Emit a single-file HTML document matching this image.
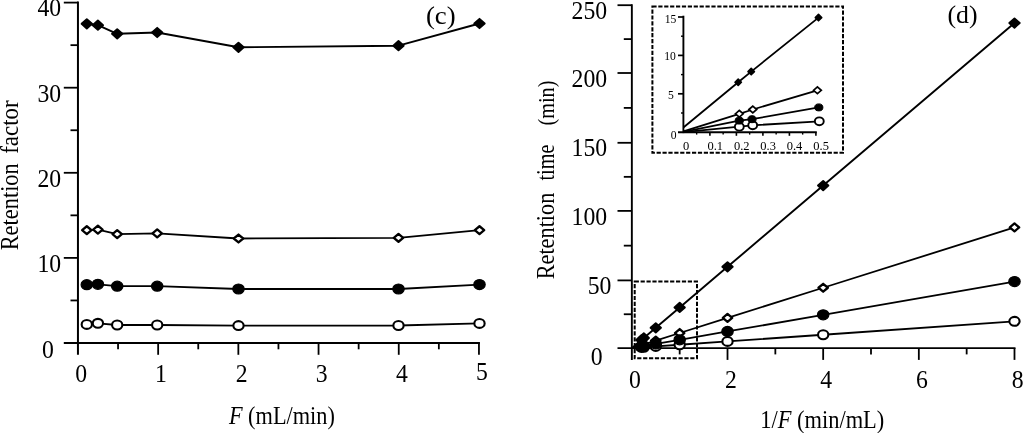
<!DOCTYPE html>
<html><head><meta charset="utf-8"><title>Figure</title>
<style>
html,body{margin:0;padding:0;background:#fff;}
body{width:1024px;height:433px;overflow:hidden;}
svg{display:block;will-change:transform;font-family:"Liberation Serif",serif;fill:#000;}
</style></head><body>
<svg width="1024" height="433" viewBox="0 0 1024 433">
<rect x="0" y="0" width="1024" height="433" fill="#fff"/>
<line x1="77.95" y1="1.60" x2="77.95" y2="354.80" stroke="#000" stroke-width="2.0" />
<line x1="63.80" y1="343.00" x2="479.95" y2="343.00" stroke="#000" stroke-width="2.0" />
<line x1="63.80" y1="257.90" x2="77.95" y2="257.90" stroke="#000" stroke-width="1.8" />
<line x1="63.80" y1="172.80" x2="77.95" y2="172.80" stroke="#000" stroke-width="1.8" />
<line x1="63.80" y1="87.70" x2="77.95" y2="87.70" stroke="#000" stroke-width="1.8" />
<line x1="63.80" y1="2.60" x2="77.95" y2="2.60" stroke="#000" stroke-width="1.8" />
<line x1="70.50" y1="300.45" x2="77.95" y2="300.45" stroke="#000" stroke-width="1.8" />
<line x1="70.50" y1="215.35" x2="77.95" y2="215.35" stroke="#000" stroke-width="1.8" />
<line x1="70.50" y1="130.25" x2="77.95" y2="130.25" stroke="#000" stroke-width="1.8" />
<line x1="70.50" y1="45.15" x2="77.95" y2="45.15" stroke="#000" stroke-width="1.8" />
<line x1="158.15" y1="343.00" x2="158.15" y2="354.80" stroke="#000" stroke-width="1.8" />
<line x1="238.35" y1="343.00" x2="238.35" y2="354.80" stroke="#000" stroke-width="1.8" />
<line x1="318.55" y1="343.00" x2="318.55" y2="354.80" stroke="#000" stroke-width="1.8" />
<line x1="398.75" y1="343.00" x2="398.75" y2="354.80" stroke="#000" stroke-width="1.8" />
<line x1="478.95" y1="343.00" x2="478.95" y2="354.80" stroke="#000" stroke-width="1.8" />
<line x1="118.05" y1="343.00" x2="118.05" y2="349.30" stroke="#000" stroke-width="1.8" />
<line x1="198.25" y1="343.00" x2="198.25" y2="349.30" stroke="#000" stroke-width="1.8" />
<line x1="278.45" y1="343.00" x2="278.45" y2="349.30" stroke="#000" stroke-width="1.8" />
<line x1="358.65" y1="343.00" x2="358.65" y2="349.30" stroke="#000" stroke-width="1.8" />
<line x1="438.85" y1="343.00" x2="438.85" y2="349.30" stroke="#000" stroke-width="1.8" />
<text transform="translate(41.88,357.60) scale(0.95,1)" font-size="25.0">0</text>
<text transform="translate(37.40,271.70) scale(0.95,1)" font-size="25.0">10</text>
<text transform="translate(37.40,186.60) scale(0.95,1)" font-size="25.0">20</text>
<text transform="translate(37.40,101.50) scale(0.95,1)" font-size="25.0">30</text>
<text transform="translate(37.40,16.40) scale(0.95,1)" font-size="25.0">40</text>
<text transform="translate(75.21,382.20) scale(0.95,1)" font-size="25.0">0</text>
<text transform="translate(155.06,382.20) scale(0.95,1)" font-size="25.0">1</text>
<text transform="translate(235.73,382.20) scale(0.95,1)" font-size="25.0">2</text>
<text transform="translate(315.69,382.20) scale(0.95,1)" font-size="25.0">3</text>
<text transform="translate(395.95,382.20) scale(0.95,1)" font-size="25.0">4</text>
<text transform="translate(475.97,379.50) scale(0.95,1)" font-size="25.0">5</text>
<text transform="translate(228.91,423.70) scale(0.9,1)" font-size="24.8"><tspan font-style="italic">F</tspan> (mL/min)</text>
<text transform="translate(425.89,23.70) scale(1.03,1)" font-size="26">(c)</text>
<text transform="translate(18.00,250.37) rotate(-90) scale(0.897,1)" font-size="25">Retention</text>
<text transform="translate(18.00,153.79) rotate(-90) scale(0.917,1)" font-size="25">factor</text>
<polyline points="86.80,23.80 97.90,25.20 117.20,33.80 157.20,32.50 238.50,47.30 398.50,45.70 479.50,23.50" fill="none" stroke="#000" stroke-width="1.9" stroke-linejoin="round"/>
<polyline points="86.80,230.20 97.90,229.60 117.20,234.10 157.20,233.40 238.50,238.50 398.50,237.80 479.50,230.20" fill="none" stroke="#000" stroke-width="1.8" stroke-linejoin="round"/>
<polyline points="86.80,284.70 97.90,284.30 117.20,286.20 157.20,286.20 238.50,289.00 398.50,289.00 479.50,284.60" fill="none" stroke="#000" stroke-width="1.8" stroke-linejoin="round"/>
<polyline points="86.80,324.40 97.90,323.30 117.20,325.00 157.20,325.00 238.50,325.60 398.50,325.50 479.50,323.40" fill="none" stroke="#000" stroke-width="1.8" stroke-linejoin="round"/>
<polygon points="81.60,23.80 86.80,19.15 92.00,23.80 86.80,28.45" fill="#000" stroke="#000" stroke-width="1.9" stroke-linejoin="round"/>
<polygon points="92.70,25.20 97.90,20.55 103.10,25.20 97.90,29.85" fill="#000" stroke="#000" stroke-width="1.9" stroke-linejoin="round"/>
<polygon points="112.00,33.80 117.20,29.15 122.40,33.80 117.20,38.45" fill="#000" stroke="#000" stroke-width="1.9" stroke-linejoin="round"/>
<polygon points="152.00,32.50 157.20,27.85 162.40,32.50 157.20,37.15" fill="#000" stroke="#000" stroke-width="1.9" stroke-linejoin="round"/>
<polygon points="233.30,47.30 238.50,42.65 243.70,47.30 238.50,51.95" fill="#000" stroke="#000" stroke-width="1.9" stroke-linejoin="round"/>
<polygon points="393.30,45.70 398.50,41.05 403.70,45.70 398.50,50.35" fill="#000" stroke="#000" stroke-width="1.9" stroke-linejoin="round"/>
<polygon points="474.30,23.50 479.50,18.85 484.70,23.50 479.50,28.15" fill="#000" stroke="#000" stroke-width="1.9" stroke-linejoin="round"/>
<polygon points="82.10,230.20 86.80,226.25 91.50,230.20 86.80,234.15" fill="#fff" stroke="#000" stroke-width="2.3" stroke-linejoin="round"/>
<polygon points="93.20,229.60 97.90,225.65 102.60,229.60 97.90,233.55" fill="#fff" stroke="#000" stroke-width="2.3" stroke-linejoin="round"/>
<polygon points="112.50,234.10 117.20,230.15 121.90,234.10 117.20,238.05" fill="#fff" stroke="#000" stroke-width="2.3" stroke-linejoin="round"/>
<polygon points="152.50,233.40 157.20,229.45 161.90,233.40 157.20,237.35" fill="#fff" stroke="#000" stroke-width="2.3" stroke-linejoin="round"/>
<polygon points="233.80,238.50 238.50,234.55 243.20,238.50 238.50,242.45" fill="#fff" stroke="#000" stroke-width="2.3" stroke-linejoin="round"/>
<polygon points="393.80,237.80 398.50,233.85 403.20,237.80 398.50,241.75" fill="#fff" stroke="#000" stroke-width="2.3" stroke-linejoin="round"/>
<polygon points="474.80,230.20 479.50,226.25 484.20,230.20 479.50,234.15" fill="#fff" stroke="#000" stroke-width="2.3" stroke-linejoin="round"/>
<ellipse cx="86.80" cy="284.70" rx="5.70" ry="5.00" fill="#000" stroke="#000" stroke-width="1.2"/>
<ellipse cx="97.90" cy="284.30" rx="5.70" ry="5.00" fill="#000" stroke="#000" stroke-width="1.2"/>
<ellipse cx="117.20" cy="286.20" rx="5.70" ry="5.00" fill="#000" stroke="#000" stroke-width="1.2"/>
<ellipse cx="157.20" cy="286.20" rx="5.70" ry="5.00" fill="#000" stroke="#000" stroke-width="1.2"/>
<ellipse cx="238.50" cy="289.00" rx="5.70" ry="5.00" fill="#000" stroke="#000" stroke-width="1.2"/>
<ellipse cx="398.50" cy="289.00" rx="5.70" ry="5.00" fill="#000" stroke="#000" stroke-width="1.2"/>
<ellipse cx="479.50" cy="284.60" rx="5.70" ry="5.00" fill="#000" stroke="#000" stroke-width="1.2"/>
<ellipse cx="86.80" cy="324.40" rx="5.15" ry="4.45" fill="#fff" stroke="#000" stroke-width="2.1"/>
<ellipse cx="97.90" cy="323.30" rx="5.15" ry="4.45" fill="#fff" stroke="#000" stroke-width="2.1"/>
<ellipse cx="117.20" cy="325.00" rx="5.15" ry="4.45" fill="#fff" stroke="#000" stroke-width="2.1"/>
<ellipse cx="157.20" cy="325.00" rx="5.15" ry="4.45" fill="#fff" stroke="#000" stroke-width="2.1"/>
<ellipse cx="238.50" cy="325.60" rx="5.15" ry="4.45" fill="#fff" stroke="#000" stroke-width="2.1"/>
<ellipse cx="398.50" cy="325.50" rx="5.15" ry="4.45" fill="#fff" stroke="#000" stroke-width="2.1"/>
<ellipse cx="479.50" cy="323.40" rx="5.15" ry="4.45" fill="#fff" stroke="#000" stroke-width="2.1"/>
<line x1="631.85" y1="4.30" x2="631.85" y2="359.90" stroke="#000" stroke-width="1.9" />
<line x1="617.50" y1="348.10" x2="1015.49" y2="348.10" stroke="#000" stroke-width="1.9" />
<line x1="617.50" y1="280.40" x2="631.85" y2="280.40" stroke="#000" stroke-width="1.8" />
<line x1="617.50" y1="210.90" x2="631.85" y2="210.90" stroke="#000" stroke-width="1.8" />
<line x1="617.50" y1="142.80" x2="631.85" y2="142.80" stroke="#000" stroke-width="1.8" />
<line x1="617.50" y1="73.00" x2="631.85" y2="73.00" stroke="#000" stroke-width="1.8" />
<line x1="617.50" y1="5.20" x2="631.85" y2="5.20" stroke="#000" stroke-width="1.8" />
<line x1="623.80" y1="314.25" x2="631.85" y2="314.25" stroke="#000" stroke-width="1.8" />
<line x1="623.80" y1="245.65" x2="631.85" y2="245.65" stroke="#000" stroke-width="1.8" />
<line x1="623.80" y1="176.85" x2="631.85" y2="176.85" stroke="#000" stroke-width="1.8" />
<line x1="623.80" y1="107.90" x2="631.85" y2="107.90" stroke="#000" stroke-width="1.8" />
<line x1="623.80" y1="39.10" x2="631.85" y2="39.10" stroke="#000" stroke-width="1.8" />
<line x1="727.51" y1="348.10" x2="727.51" y2="359.90" stroke="#000" stroke-width="1.8" />
<line x1="823.17" y1="348.10" x2="823.17" y2="359.90" stroke="#000" stroke-width="1.8" />
<line x1="918.83" y1="348.10" x2="918.83" y2="359.90" stroke="#000" stroke-width="1.8" />
<line x1="1014.49" y1="348.10" x2="1014.49" y2="359.90" stroke="#000" stroke-width="1.8" />
<line x1="679.68" y1="348.10" x2="679.68" y2="354.40" stroke="#000" stroke-width="1.8" />
<line x1="775.34" y1="348.10" x2="775.34" y2="354.40" stroke="#000" stroke-width="1.8" />
<line x1="871.00" y1="348.10" x2="871.00" y2="354.40" stroke="#000" stroke-width="1.8" />
<line x1="966.66" y1="348.10" x2="966.66" y2="354.40" stroke="#000" stroke-width="1.8" />
<text transform="translate(590.78,364.80) scale(0.95,1)" font-size="25.0">0</text>
<text transform="translate(587.70,294.20) scale(0.95,1)" font-size="25.0">50</text>
<text transform="translate(571.62,224.50) scale(0.95,1)" font-size="25.0">100</text>
<text transform="translate(571.62,156.40) scale(0.95,1)" font-size="25.0">150</text>
<text transform="translate(571.62,86.60) scale(0.95,1)" font-size="25.0">200</text>
<text transform="translate(571.62,18.80) scale(0.95,1)" font-size="25.0">250</text>
<text transform="translate(629.11,387.50) scale(0.95,1)" font-size="25.0">0</text>
<text transform="translate(724.89,387.50) scale(0.95,1)" font-size="25.0">2</text>
<text transform="translate(820.37,387.50) scale(0.95,1)" font-size="25.0">4</text>
<text transform="translate(915.91,387.50) scale(0.95,1)" font-size="25.0">6</text>
<text transform="translate(1011.75,387.50) scale(0.95,1)" font-size="25.0">8</text>
<text transform="translate(760.28,427.60) scale(0.905,1)" font-size="24.8">1/<tspan font-style="italic">F</tspan> (min/mL)</text>
<text transform="translate(947.44,23.10) scale(1.0,1)" font-size="25.8">(d)</text>
<text transform="translate(553.80,279.37) rotate(-90) scale(0.893,1)" font-size="25">Retention</text>
<text transform="translate(553.80,180.50) rotate(-90) scale(0.81,1)" font-size="25">time</text>
<text transform="translate(553.80,125.51) rotate(-90) scale(0.86,1)" font-size="23.5">(min)</text>
<polyline points="631.85,348.10 641.42,347.43 643.81,347.26 655.76,346.43 679.68,344.76 727.51,341.41 823.17,334.73 1014.49,321.35" fill="none" stroke="#000" stroke-width="1.8" stroke-linejoin="round"/>
<polyline points="631.85,348.10 641.42,345.08 643.81,344.33 655.76,340.56 679.68,333.01 727.51,317.92 823.17,287.75 1014.49,227.40" fill="none" stroke="#000" stroke-width="1.8" stroke-linejoin="round"/>
<polyline points="631.85,348.10 641.42,346.44 643.81,346.02 655.76,343.94 679.68,339.78 727.51,331.47 823.17,314.84 1014.49,281.58" fill="none" stroke="#000" stroke-width="1.8" stroke-linejoin="round"/>
<polyline points="631.85,348.10 641.42,339.97 643.81,337.94 655.76,327.78 679.68,307.47 727.51,266.83 823.17,185.57 1014.49,23.03" fill="none" stroke="#000" stroke-width="1.9" stroke-linejoin="round"/>
<ellipse cx="641.42" cy="347.43" rx="5.15" ry="4.45" fill="#fff" stroke="#000" stroke-width="2.1"/>
<ellipse cx="643.81" cy="347.26" rx="5.15" ry="4.45" fill="#fff" stroke="#000" stroke-width="2.1"/>
<ellipse cx="655.76" cy="346.43" rx="5.15" ry="4.45" fill="#fff" stroke="#000" stroke-width="2.1"/>
<ellipse cx="679.68" cy="344.76" rx="5.15" ry="4.45" fill="#fff" stroke="#000" stroke-width="2.1"/>
<ellipse cx="727.51" cy="341.41" rx="5.15" ry="4.45" fill="#fff" stroke="#000" stroke-width="2.1"/>
<ellipse cx="823.17" cy="334.73" rx="5.15" ry="4.45" fill="#fff" stroke="#000" stroke-width="2.1"/>
<ellipse cx="1014.49" cy="321.35" rx="5.15" ry="4.45" fill="#fff" stroke="#000" stroke-width="2.1"/>
<polygon points="636.72,345.08 641.42,341.13 646.12,345.08 641.42,349.03" fill="#fff" stroke="#000" stroke-width="2.3" stroke-linejoin="round"/>
<polygon points="639.11,344.33 643.81,340.38 648.51,344.33 643.81,348.28" fill="#fff" stroke="#000" stroke-width="2.3" stroke-linejoin="round"/>
<polygon points="651.06,340.56 655.76,336.61 660.47,340.56 655.76,344.51" fill="#fff" stroke="#000" stroke-width="2.3" stroke-linejoin="round"/>
<polygon points="674.98,333.01 679.68,329.06 684.38,333.01 679.68,336.96" fill="#fff" stroke="#000" stroke-width="2.3" stroke-linejoin="round"/>
<polygon points="722.81,317.92 727.51,313.97 732.21,317.92 727.51,321.87" fill="#fff" stroke="#000" stroke-width="2.3" stroke-linejoin="round"/>
<polygon points="818.47,287.75 823.17,283.80 827.87,287.75 823.17,291.70" fill="#fff" stroke="#000" stroke-width="2.3" stroke-linejoin="round"/>
<polygon points="1009.79,227.40 1014.49,223.45 1019.19,227.40 1014.49,231.35" fill="#fff" stroke="#000" stroke-width="2.3" stroke-linejoin="round"/>
<ellipse cx="641.42" cy="346.44" rx="5.70" ry="5.00" fill="#000" stroke="#000" stroke-width="1.2"/>
<ellipse cx="643.81" cy="346.02" rx="5.70" ry="5.00" fill="#000" stroke="#000" stroke-width="1.2"/>
<ellipse cx="655.76" cy="343.94" rx="5.70" ry="5.00" fill="#000" stroke="#000" stroke-width="1.2"/>
<ellipse cx="679.68" cy="339.78" rx="5.70" ry="5.00" fill="#000" stroke="#000" stroke-width="1.2"/>
<ellipse cx="727.51" cy="331.47" rx="5.70" ry="5.00" fill="#000" stroke="#000" stroke-width="1.2"/>
<ellipse cx="823.17" cy="314.84" rx="5.70" ry="5.00" fill="#000" stroke="#000" stroke-width="1.2"/>
<ellipse cx="1014.49" cy="281.58" rx="5.70" ry="5.00" fill="#000" stroke="#000" stroke-width="1.2"/>
<polygon points="636.22,339.97 641.42,335.32 646.62,339.97 641.42,344.62" fill="#000" stroke="#000" stroke-width="1.9" stroke-linejoin="round"/>
<polygon points="638.61,337.94 643.81,333.29 649.01,337.94 643.81,342.59" fill="#000" stroke="#000" stroke-width="1.9" stroke-linejoin="round"/>
<polygon points="650.56,327.78 655.76,323.13 660.97,327.78 655.76,332.43" fill="#000" stroke="#000" stroke-width="1.9" stroke-linejoin="round"/>
<polygon points="674.48,307.47 679.68,302.82 684.88,307.47 679.68,312.12" fill="#000" stroke="#000" stroke-width="1.9" stroke-linejoin="round"/>
<polygon points="722.31,266.83 727.51,262.18 732.71,266.83 727.51,271.48" fill="#000" stroke="#000" stroke-width="1.9" stroke-linejoin="round"/>
<polygon points="817.97,185.57 823.17,180.92 828.37,185.57 823.17,190.22" fill="#000" stroke="#000" stroke-width="1.9" stroke-linejoin="round"/>
<polygon points="1009.29,23.03 1014.49,18.38 1019.69,23.03 1014.49,27.68" fill="#000" stroke="#000" stroke-width="1.9" stroke-linejoin="round"/>
<rect x="634.7" y="281.5" width="62.3" height="76.8" fill="none" stroke="#000" stroke-width="2.0" stroke-dasharray="4.2 1.7"/>
<rect x="652.4" y="6.4" width="190.6" height="146.4" fill="none" stroke="#000" stroke-width="2.0" stroke-dasharray="4.2 1.7"/>
<line x1="683.40" y1="15.70" x2="683.40" y2="133.10" stroke="#000" stroke-width="1.9" />
<line x1="678.00" y1="132.20" x2="816.80" y2="132.20" stroke="#000" stroke-width="1.9" />
<line x1="678.00" y1="93.80" x2="683.40" y2="93.80" stroke="#000" stroke-width="1.7" />
<line x1="678.00" y1="55.40" x2="683.40" y2="55.40" stroke="#000" stroke-width="1.7" />
<line x1="678.00" y1="17.00" x2="683.40" y2="17.00" stroke="#000" stroke-width="1.7" />
<line x1="681.00" y1="113.00" x2="683.40" y2="113.00" stroke="#000" stroke-width="1.4" />
<line x1="681.00" y1="74.60" x2="683.40" y2="74.60" stroke="#000" stroke-width="1.4" />
<line x1="681.00" y1="36.20" x2="683.40" y2="36.20" stroke="#000" stroke-width="1.4" />
<line x1="709.90" y1="132.20" x2="709.90" y2="135.80" stroke="#000" stroke-width="1.6" />
<line x1="736.40" y1="132.20" x2="736.40" y2="135.80" stroke="#000" stroke-width="1.6" />
<line x1="762.90" y1="132.20" x2="762.90" y2="135.80" stroke="#000" stroke-width="1.6" />
<line x1="789.40" y1="132.20" x2="789.40" y2="135.80" stroke="#000" stroke-width="1.6" />
<line x1="815.90" y1="132.20" x2="815.90" y2="135.80" stroke="#000" stroke-width="1.6" />
<line x1="696.65" y1="132.20" x2="696.65" y2="134.60" stroke="#000" stroke-width="1.4" />
<line x1="723.15" y1="132.20" x2="723.15" y2="134.60" stroke="#000" stroke-width="1.4" />
<line x1="749.65" y1="132.20" x2="749.65" y2="134.60" stroke="#000" stroke-width="1.4" />
<line x1="776.15" y1="132.20" x2="776.15" y2="134.60" stroke="#000" stroke-width="1.4" />
<line x1="802.65" y1="132.20" x2="802.65" y2="134.60" stroke="#000" stroke-width="1.4" />
<text transform="translate(670.75,138.80) scale(0.97,1)" font-size="12.0">0</text>
<text transform="translate(667.95,99.40) scale(0.97,1)" font-size="12.0">5</text>
<text transform="translate(664.23,60.40) scale(0.97,1)" font-size="12.0">10</text>
<text transform="translate(664.63,22.80) scale(0.97,1)" font-size="12.0">15</text>
<text transform="translate(682.98,149.70) scale(1.04,1)" font-size="12.0">0</text>
<text transform="translate(707.42,149.70) scale(1.04,1)" font-size="12.0">0.1</text>
<text transform="translate(733.89,149.70) scale(1.04,1)" font-size="12.0">0.2</text>
<text transform="translate(760.30,149.70) scale(1.04,1)" font-size="12.0">0.3</text>
<text transform="translate(786.64,149.70) scale(1.04,1)" font-size="12.0">0.4</text>
<text transform="translate(813.30,149.70) scale(1.04,1)" font-size="12.0">0.5</text>
<polyline points="683.40,132.20 739.30,126.70 752.70,125.30 819.30,121.30" fill="none" stroke="#000" stroke-width="1.8" stroke-linejoin="round"/>
<polyline points="683.40,131.30 739.30,113.80 752.80,109.50 817.40,90.30" fill="none" stroke="#000" stroke-width="1.8" stroke-linejoin="round"/>
<polyline points="683.40,131.80 739.30,120.60 752.00,119.20 818.80,107.40" fill="none" stroke="#000" stroke-width="1.8" stroke-linejoin="round"/>
<polyline points="683.40,127.50 738.20,82.20 751.20,71.60 818.50,17.60" fill="none" stroke="#000" stroke-width="1.8" stroke-linejoin="round"/>
<ellipse cx="739.30" cy="126.70" rx="4.45" ry="3.90" fill="#fff" stroke="#000" stroke-width="1.9"/>
<ellipse cx="752.70" cy="125.30" rx="4.45" ry="3.90" fill="#fff" stroke="#000" stroke-width="1.9"/>
<ellipse cx="819.30" cy="121.30" rx="4.45" ry="3.90" fill="#fff" stroke="#000" stroke-width="1.9"/>
<polygon points="735.40,113.80 739.30,110.40 743.20,113.80 739.30,117.20" fill="#fff" stroke="#000" stroke-width="1.7" stroke-linejoin="miter"/>
<polygon points="748.90,109.50 752.80,106.10 756.70,109.50 752.80,112.90" fill="#fff" stroke="#000" stroke-width="1.7" stroke-linejoin="miter"/>
<polygon points="813.50,90.30 817.40,86.90 821.30,90.30 817.40,93.70" fill="#fff" stroke="#000" stroke-width="1.7" stroke-linejoin="miter"/>
<ellipse cx="739.30" cy="120.60" rx="4.10" ry="3.50" fill="#000" stroke="#000" stroke-width="1.0"/>
<ellipse cx="752.00" cy="119.20" rx="4.10" ry="3.50" fill="#000" stroke="#000" stroke-width="1.0"/>
<ellipse cx="818.80" cy="107.40" rx="4.10" ry="3.50" fill="#000" stroke="#000" stroke-width="1.0"/>
<polygon points="735.00,82.20 738.20,79.00 741.40,82.20 738.20,85.40" fill="#000" stroke="#000" stroke-width="1.6" stroke-linejoin="round"/>
<polygon points="748.00,71.60 751.20,68.40 754.40,71.60 751.20,74.80" fill="#000" stroke="#000" stroke-width="1.6" stroke-linejoin="round"/>
<polygon points="815.30,17.60 818.50,14.40 821.70,17.60 818.50,20.80" fill="#000" stroke="#000" stroke-width="1.6" stroke-linejoin="round"/>
</svg>
</body></html>
